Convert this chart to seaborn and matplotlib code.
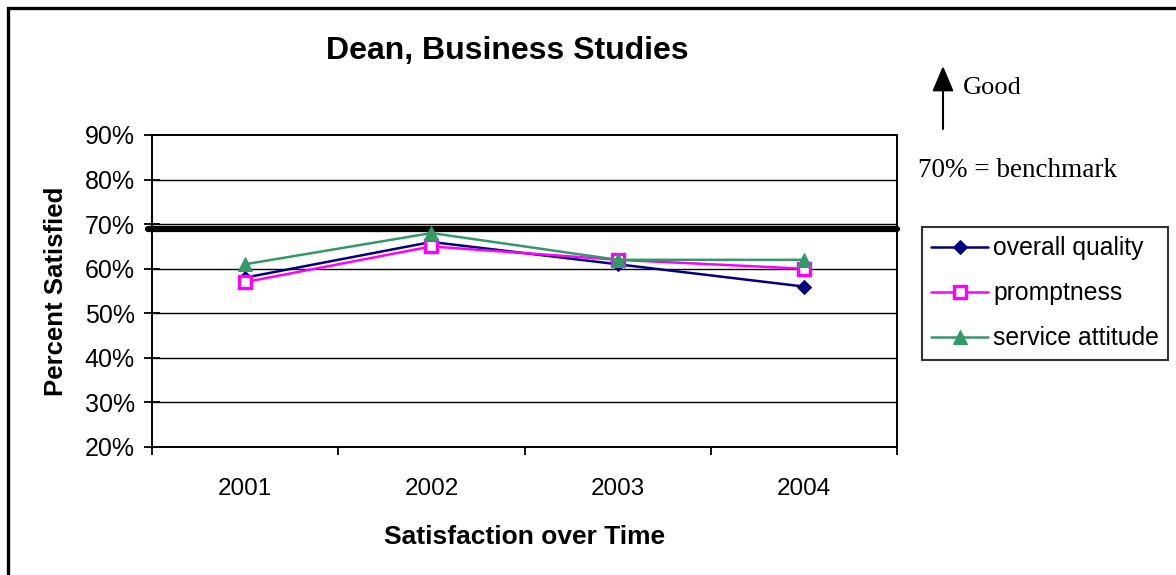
import matplotlib
matplotlib.use("Agg")
import matplotlib.pyplot as plt
from matplotlib.patches import Rectangle
from matplotlib.ticker import FixedLocator, PercentFormatter
import seaborn as sns
import pandas as pd

# Survey results per year (percent satisfied)
years = ["2001", "2002", "2003", "2004"]
overall_quality = [58, 66, 61, 56]
promptness = [57, 65, 62, 60]
service_attitude = [61, 68, 62, 62]
benchmark = 69
y_ticks = [20, 30, 40, 50, 60, 70, 80, 90]

series_names = ["overall quality", "promptness", "service attitude"]
series_values = [overall_quality, promptness, service_attitude]

df = pd.DataFrame({
    "pos": list(range(len(years))) * len(series_names),
    "value": overall_quality + promptness + service_attitude,
    "series": [s for s in series_names for _ in years],
})

sns.set_theme(style="white")
plt.rcParams["font.family"] = ["Liberation Sans", "DejaVu Sans"]

W, H = 1176, 575
fig = plt.figure(figsize=(W / 100, H / 100), dpi=100)
ax = fig.add_axes([152 / W, 1 - 447 / H, (897 - 152) / W, (447 - 135) / H])

styles = {
    "overall quality": dict(color="#000080", marker="D", markersize=7,
                            markerfacecolor="#000080", markeredgecolor="#000080"),
    "promptness": dict(color="#FF00FF", marker="s", markersize=8,
                       markerfacecolor="white", markeredgecolor="#FF00FF",
                       markeredgewidth=2.4),
    "service attitude": dict(color="#339966", marker="^", markersize=10,
                             markerfacecolor="#339966", markeredgecolor="#339966"),
}

# gridlines and benchmark
for v in y_ticks[1:-1]:
    ax.axhline(v, color="black", lw=1.0, zorder=1)
ax.axhline(benchmark, xmin=-0.005, xmax=1, color="black", lw=4.5,
           solid_capstyle="round", clip_on=False, zorder=2)

handles = []
for name in series_names:
    sub = df[df["series"] == name]
    sns.lineplot(data=sub, x="pos", y="value", ax=ax, lw=1.8, zorder=3,
                 label=name, legend=False, **styles[name])
    handles.append(ax.lines[-1])

ax.set_xlim(-0.5, len(years) - 0.5)
ax.set_ylim(20, 90)
ax.yaxis.set_major_locator(FixedLocator(y_ticks))
ax.yaxis.set_major_formatter(PercentFormatter(decimals=0))
ax.xaxis.set_major_locator(FixedLocator([i - 0.5 for i in range(len(years) + 1)]))
ax.xaxis.set_minor_locator(FixedLocator(list(range(len(years)))))
ax.set_xticklabels([])
ax.set_xticklabels(years, minor=True)
ax.tick_params(axis="x", which="major", direction="out", length=6, width=1.3,
               color="black", bottom=True)
ax.tick_params(axis="x", which="minor", length=0, labelsize=17.5, pad=22,
               labelcolor="black")
ax.tick_params(axis="y", direction="inout", length=11, width=1.3, color="black",
               left=True, labelsize=18, pad=7, labelcolor="black")
for sp in ax.spines.values():
    sp.set_color("black")
    sp.set_linewidth(1.4)

ax.set_xlabel("Satisfaction over Time", fontsize=19, fontweight="bold",
              color="black", labelpad=18)
ax.set_ylabel("Percent Satisfied", fontsize=18.5, fontweight="bold",
              color="black", labelpad=12)
fig.text(507 / W, 1 - 51 / H, "Dean, Business Studies", fontsize=23,
         fontweight="bold", ha="center", va="center", color="black")

# annotation on the right
fig.patches.append(Rectangle((8 / W, -0.1), 1.5, 1 - 8 / H + 0.1, fill=False,
                             edgecolor="black", lw=2.4,
                             transform=fig.transFigure, figure=fig))
ax.annotate("", xy=(943 / W, 1 - 66 / H), xytext=(943 / W, 1 - 129 / H),
            xycoords="figure fraction", textcoords="figure fraction",
            arrowprops=dict(arrowstyle="-|>,head_length=1.3,head_width=0.55",
                            color="black", lw=1.5, shrinkA=0, shrinkB=0))
fig.text(963 / W, 1 - 88 / H, "Good", fontsize=19, family="Liberation Serif",
         ha="left", va="center", color="black")
fig.text(918 / W, 1 - 171 / H, "70% = benchmark", fontsize=19.5,
         family="Liberation Serif", ha="left", va="center", color="black")

leg = fig.legend(handles=handles, labels=series_names, loc="upper left",
                 bbox_to_anchor=(922 / W, 1 - 227 / H), fontsize=17.8,
                 frameon=True, fancybox=False, edgecolor="black",
                 handlelength=2.3, handletextpad=0.2, labelspacing=0.85,
                 borderpad=0.38, borderaxespad=0)
leg.get_frame().set_linewidth(1.5)
for t in leg.get_texts():
    t.set_color("black")

fig.savefig("out.png", dpi=100, facecolor="white")
